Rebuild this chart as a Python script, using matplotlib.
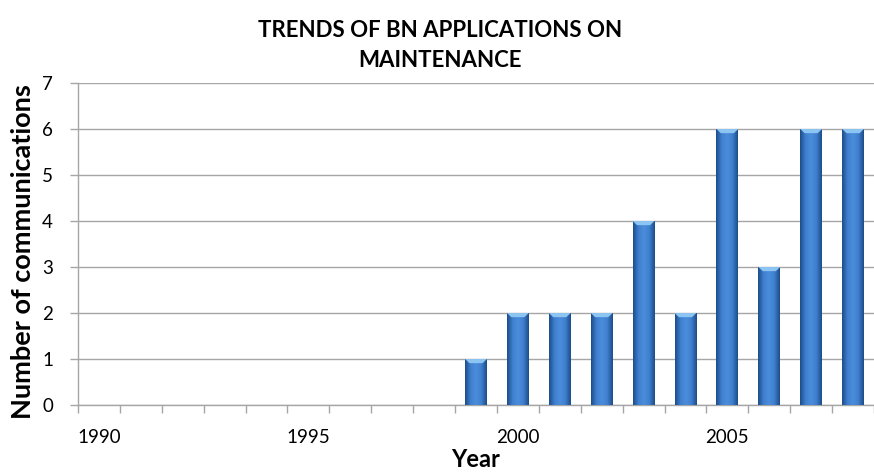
import numpy as np
import matplotlib
matplotlib.use('Agg')
import matplotlib.pyplot as plt
from matplotlib.colors import LinearSegmentedColormap

# data
years = list(range(1990, 2009))
counts = [0, 0, 0, 0, 0, 0, 0, 0, 0, 1, 2, 2, 2, 4, 2, 6, 3, 6, 6]
label_years = [1990, 1995, 2000, 2005]

plt.rcParams['font.family'] = ['Lato', 'DejaVu Sans']

fig = plt.figure(figsize=(8.74, 4.72), dpi=100)
ax = fig.add_axes([0.0892, 0.1419, 0.9108, 0.6822])

x = np.arange(len(years))
bw = 0.52
grid_col = '#a6a6a6'

# gradient for the bars (dark edges, lighter middle)
cmap = LinearSegmentedColormap.from_list('bar', ['#1d4d8a', '#3f7fcf', '#4b8ddb', '#3f7fcf', '#1d4d8a'])
grad = np.linspace(0, 1, 64).reshape(1, -1)

bars = ax.bar(x, counts, width=bw, color='#3a78c6', zorder=3, linewidth=0)
for b, v in zip(bars, counts):
    if v <= 0:
        continue
    x0 = b.get_x()
    im = ax.imshow(grad, cmap=cmap, aspect='auto', extent=(x0, x0 + bw, 0, v), zorder=4)
    im.set_clip_path(b)
    # light bevel at top of the bar
    ax.fill([x0, x0 + bw, x0 + bw * 0.8, x0 + bw * 0.2], [v, v, v - 0.09, v - 0.09],
            color='#8cc4f2', zorder=5, linewidth=0)

ax.set_xlim(-0.5, 18.38)
ax.set_ylim(0, 7)
ax.set_yticks(range(0, 8))
ax.yaxis.grid(True, color=grid_col, linewidth=1)
ax.set_axisbelow(True)

# labels every five years, ticks on category boundaries
ax.set_xticks([years.index(y) for y in label_years])
ax.set_xticklabels([str(y) for y in label_years])
ax.set_xticks(np.arange(-0.5, len(years), 1), minor=True)
ax.tick_params(axis='x', which='major', length=0, labelsize=13.5, pad=17)
ax.tick_params(axis='x', which='minor', length=6, color=grid_col, width=1, direction='out')
ax.tick_params(axis='y', length=6, color=grid_col, width=1, labelsize=13.5, pad=12)

for s in ['top', 'right']:
    ax.spines[s].set_visible(False)
for s in ['left', 'bottom']:
    ax.spines[s].set_color(grid_col)
    ax.spines[s].set_linewidth(1)

ax.set_ylabel('Number of communications', fontsize=19.5, fontweight='bold')
ax.yaxis.set_label_coords(-0.054, 0.478)
ax.set_xlabel('Year', fontsize=17, fontweight='bold', labelpad=2)
fig.text(0.503, 0.958, 'TRENDS OF BN APPLICATIONS ON\nMAINTENANCE', ha='center', va='top',
         fontsize=16, fontweight='bold', linespacing=1.55)

fig.savefig('out.png', dpi=100)
